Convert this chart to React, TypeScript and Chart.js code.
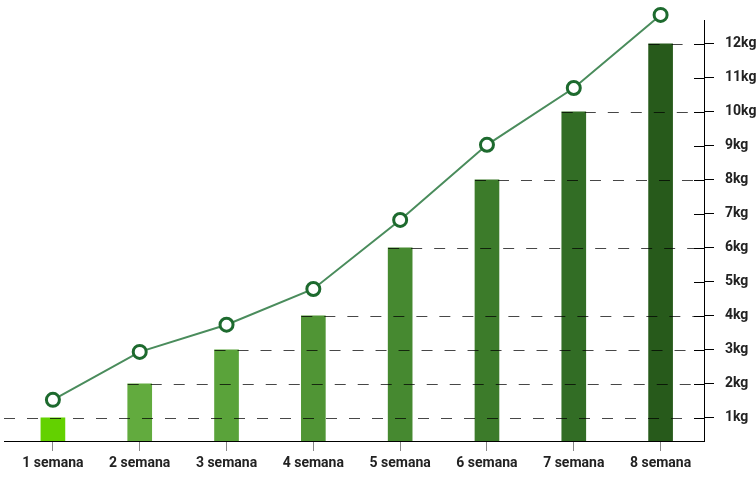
import React, { useEffect, useRef } from "react";
import { Chart, registerables } from "chart.js";

Chart.register(...registerables);

const categories = ["1 semana", "2 semana", "3 semana", "4 semana", "5 semana", "6 semana", "7 semana", "8 semana"];
const barValues = [1, 2, 3, 4, 6, 8, 10, 12];
const lineValues = [1.53, 2.94, 3.74, 4.79, 6.82, 9.03, 10.7, 12.85];
const yTickValues = [1, 2, 3, 4, 5, 6, 7, 8, 9, 10, 11, 12];
const yTickLabels = ["1kg", "2kg", "3kg", "4kg", "5kg", "6kg", "7kg", "8kg", "9kg", "10kg", "11kg", "12kg"];
const barColors = ["#63d100", "#62ab3e", "#5aa33a", "#509535", "#468930", "#3c7b2a", "#326d25", "#275a1b"];

const overlayPlugin = {
  id: "overlay",
  afterDatasetDraw(chart: any, args: any) {
    if (args.index !== 1) return;
    const { ctx, chartArea } = chart;
    const y = chart.scales.y;
    const bars = chart.getDatasetMeta(1).data;
    ctx.save();
    // dashed reference lines at bar tops
    ctx.strokeStyle = "rgba(0,0,0,0.72)";
    ctx.lineWidth = 1;
    ctx.setLineDash([11, 12]);
    barValues.forEach((v, i) => {
      const py = Math.round(y.getPixelForValue(v)) + 0.5;
      const bar = bars[i];
      const sx = i === 0 ? 4 : bar.x - bar.width / 2;
      ctx.beginPath();
      ctx.moveTo(sx, py);
      ctx.lineTo(chartArea.right, py);
      ctx.stroke();
    });
    ctx.setLineDash([]);
    // inner tick marks
    ctx.strokeStyle = "#000";
    yTickValues.forEach((v) => {
      const py = Math.round(y.getPixelForValue(v)) + 0.5;
      ctx.beginPath();
      ctx.moveTo(chartArea.right - 10, py);
      ctx.lineTo(chartArea.right, py);
      ctx.stroke();
    });
    // x axis line
    const by = Math.round(chartArea.bottom) + 0.5;
    ctx.beginPath();
    ctx.moveTo(4, by);
    ctx.lineTo(chartArea.right, by);
    ctx.stroke();
    ctx.restore();
  },
};

export default function App() {
  const ref = useRef<HTMLCanvasElement>(null);
  useEffect(() => {
    const chart = new Chart(ref.current!, {
      type: "bar",
      data: {
        labels: categories,
        datasets: [
          {
            type: "line",
            data: lineValues,
            borderColor: "#4a8c5c",
            borderWidth: 2,
            pointRadius: 6.5,
            pointBorderWidth: 3,
            pointBorderColor: "#1d6a2e",
            pointBackgroundColor: "#ffffff",
            clip: false,
            order: 0,
          } as any,
          {
            type: "bar",
            data: barValues,
            backgroundColor: barColors,
            barThickness: 24,
            order: 1,
          },
        ],
      },
      options: {
        animation: false,
        responsive: false,
        layout: { padding: { top: 20, left: 9, right: 0, bottom: 0 } },
        plugins: { legend: { display: false }, tooltip: { enabled: false } },
        scales: {
          x: {
            grid: { drawOnChartArea: false, offset: false, tickLength: 10, color: "#888" },
            border: { display: false },
            ticks: { color: "#222", font: { family: "Roboto", weight: "bold", size: 14 }, padding: 4 },
            afterFit: (s: any) => { s.height = 43; },
          },
          y: {
            position: "right",
            min: 0.32,
            max: 12.7,
            afterBuildTicks: (s: any) => { s.ticks = yTickValues.map((v) => ({ value: v })); },
            grid: { drawOnChartArea: false, tickLength: 10, color: "#000" },
            border: { display: true, color: "#000" },
            ticks: {
              color: "#222",
              font: { family: "Roboto", weight: "bold", size: 14 },
              padding: 11,
              callback: (v: any) => yTickLabels[yTickValues.indexOf(Number(v))] ?? "",
            },
            afterFit: (s: any) => { s.width = 52; },
          },
        },
      },
      plugins: [overlayPlugin],
    });
    return () => chart.destroy();
  }, []);
  return (
    <div style={{ position: "fixed", left: 0, top: 0, width: 756, height: 484, background: "#fff" }}>
      <canvas ref={ref} width={756} height={484} style={{ width: 756, height: 484 }} />
    </div>
  );
}
